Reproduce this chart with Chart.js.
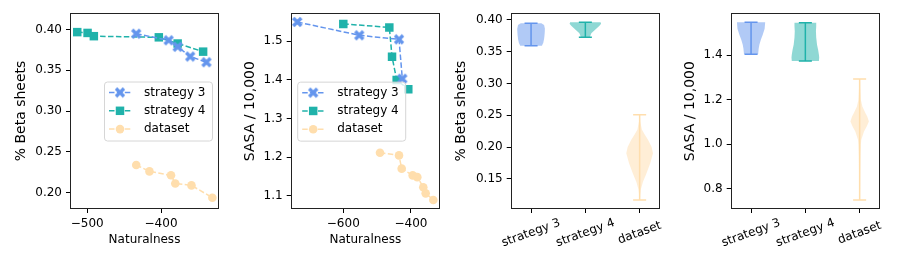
<!DOCTYPE html>
<html>
<head>
<meta charset="utf-8">
<script src="https://cdn.jsdelivr.net/npm/chart.js@4.4.0/dist/chart.umd.min.js"></script>
<style>
  body { margin: 0; background: #fff; width: 897px; height: 269px; position: relative; overflow: hidden; }
  canvas { position: absolute; top: 0; }
</style>
</head>
<body>
<canvas id="c1" width="225" height="269" style="left:0px"></canvas>
<canvas id="c2" width="225" height="269" style="left:225px"></canvas>
<canvas id="c3" width="215" height="269" style="left:450px"></canvas>
<canvas id="c4" width="232" height="269" style="left:665px"></canvas>
<script>
// ---- data ----

// panel 1: naturalness vs % beta sheets
const natTicks1 = [-500, -400];
const betaTicks = [0.20, 0.25, 0.30, 0.35, 0.40];
const s3Nat1 = [-433.6, -389.7, -377.5, -360.5, -338.5];
const s3Beta = [0.395, 0.387, 0.379, 0.367, 0.360];
const s4Nat1 = [-513.5, -499.5, -491, -403, -377.5, -343];
const s4Beta = [0.397, 0.396, 0.392, 0.3906, 0.383, 0.373];
const dsNat1 = [-433.6, -415.7, -386.5, -380.7, -358.8, -330.5];
const dsBeta = [0.2337, 0.2258, 0.221, 0.211, 0.2086, 0.1935];

// panel 2: naturalness vs SASA / 10,000
const natTicks2 = [-600, -400];
const sasaTicks = [1.1, 1.2, 1.3, 1.4, 1.5];
const s3Nat2 = [-735.9, -552.7, -435.4, -425.6];
const s3Sasa = [1.55, 1.5155, 1.505, 1.403];
const s4Nat2 = [-600, -464, -456, -442.3, -408];
const s4Sasa = [1.545, 1.536, 1.46, 1.40, 1.376];
const dsNat2 = [-491.6, -435.4, -427.5, -395, -381.4, -363.7, -356.6, -334.1];
const dsSasa = [1.2114, 1.2044, 1.17, 1.1526, 1.148, 1.122, 1.106, 1.089];

// panels 3 and 4: violins (levels + half widths in category units)
const groups = ['strategy 3', 'strategy 4', 'dataset'];
const betaViolinTicks = [0.15, 0.20, 0.25, 0.30, 0.35, 0.40];
const betaMin = [0.3596, 0.3728, 0.1164];
const betaMax = [0.3948, 0.3964, 0.2507];
const betaLevels = [
  [0.3596, 0.364, 0.37, 0.378, 0.386, 0.392, 0.3948],
  [0.3728, 0.376, 0.379, 0.383, 0.387, 0.391, 0.394, 0.3964],
  [0.1164, 0.125, 0.1327, 0.1448, 0.158, 0.1746, 0.19, 0.2, 0.2114, 0.22, 0.2275, 0.24, 0.2507]
];
const betaHalfW = [
  [0.2, 0.225, 0.24, 0.25, 0.255, 0.24, 0.19],
  [0.085, 0.095, 0.11, 0.16, 0.21, 0.26, 0.29, 0.28],
  [0.004, 0.01, 0.02, 0.06, 0.123, 0.195, 0.246, 0.22, 0.154, 0.09, 0.04, 0.012, 0.004]
];
const sasaViolinTicks = [0.8, 1.0, 1.2, 1.4];
const sasaMin = [1.4045, 1.375, 0.749];
const sasaMax = [1.5486, 1.546, 1.294];
const sasaLevels = [
  [1.4045, 1.43, 1.448, 1.47, 1.493, 1.52, 1.5486],
  [1.375, 1.39, 1.403, 1.425, 1.448, 1.48, 1.508, 1.53, 1.546],
  [0.749, 0.85, 0.95, 1.0, 1.02, 1.057, 1.08, 1.103, 1.125, 1.14, 1.17, 1.2, 1.25, 1.294]
];
const sasaHalfW = [
  [0.13, 0.14, 0.153, 0.18, 0.215, 0.25, 0.26],
  [0.25, 0.255, 0.25, 0.235, 0.215, 0.2, 0.195, 0.2, 0.2],
  [0.008, 0.01, 0.015, 0.022, 0.03, 0.08, 0.13, 0.17, 0.14, 0.108, 0.05, 0.022, 0.012, 0.008]
];

const BLUE = '#6495ED', TEAL = '#20B2AA', SAND = '#FFDEAD';
const FILLS = ['rgba(100,149,237,0.5)', 'rgba(32,178,170,0.5)', 'rgba(255,222,173,0.5)'];
const COLORS = [BLUE, TEAL, SAND];
const FONT = 'DejaVu Sans';

Chart.defaults.font.family = FONT;
Chart.defaults.font.size = 12;
Chart.defaults.color = '#000';

// filled "X" marker like matplotlib's
function xMarker() {
  const c = document.createElement('canvas');
  c.width = 12; c.height = 12;
  const g = c.getContext('2d');
  g.strokeStyle = BLUE;
  g.lineWidth = 3.4;
  g.beginPath();
  g.moveTo(2, 2); g.lineTo(10, 10);
  g.moveTo(10, 2); g.lineTo(2, 10);
  g.stroke();
  return c;
}
const X_IMG = xMarker();

const pts = (xs, ys) => xs.map((x, i) => ({ x: x, y: ys[i] }));
const minus = v => (v < 0 ? '\u2212' : '') + Math.abs(v);

function axis(min, max, ticks, fmt, extra) {
  return Object.assign({
    type: 'linear', min: min, max: max,
    afterBuildTicks: s => { s.ticks = ticks.map(v => ({ value: v })); },
    ticks: { callback: fmt, color: '#000', padding: 4, maxRotation: 0, autoSkip: false },
    grid: { display: true, drawOnChartArea: false, drawTicks: true, tickLength: 4, color: '#000', tickColor: '#000' },
    border: { display: false }
  }, extra);
}

function yTitle(text, pad) {
  return { display: true, text: text, color: '#000', font: { size: 14 }, padding: { top: pad, bottom: 0 } };
}

const frame = {
  id: 'frame',
  afterDraw(chart) {
    const a = chart.chartArea, ctx = chart.ctx;
    ctx.save();
    ctx.strokeStyle = '#222';
    ctx.lineWidth = 1;
    ctx.strokeRect(Math.round(a.left) + 0.5, Math.round(a.top) + 0.5,
      Math.round(a.right - a.left) - 1, Math.round(a.bottom - a.top) - 1);
    ctx.restore();
  }
};

function drawMarker(ctx, ds, x, y) {
  if (ds.pointStyle instanceof HTMLCanvasElement) {
    ctx.drawImage(ds.pointStyle, x - ds.pointStyle.width / 2, y - ds.pointStyle.height / 2);
  } else if (ds.pointStyle === 'rect') {
    const s = ds.pointRadius / Math.SQRT2;
    ctx.fillStyle = ds.backgroundColor;
    ctx.fillRect(x - s, y - s, 2 * s, 2 * s);
  } else {
    ctx.fillStyle = ds.backgroundColor;
    ctx.beginPath();
    ctx.arc(x, y, ds.pointRadius, 0, Math.PI * 2);
    ctx.fill();
  }
}

function boxLegend(side) {
  return {
    id: 'boxLegend',
    afterDraw(chart) {
      const a = chart.chartArea, ctx = chart.ctx;
      const w = 108, h = 59;
      const left = side === 'right' ? a.right - 7 - w : a.left + 6.5;
      const top = (a.top + a.bottom) / 2 - h / 2;
      ctx.save();
      ctx.beginPath();
      ctx.roundRect(left + 0.5, top + 0.5, w, h, 3);
      ctx.fillStyle = 'rgba(255,255,255,0.8)';
      ctx.fill();
      ctx.strokeStyle = '#d6d6d6';
      ctx.lineWidth = 1;
      ctx.stroke();
      chart.data.datasets.forEach((ds, i) => {
        const y = top + 11 + i * 18.3;
        ctx.strokeStyle = ds.borderColor;
        ctx.lineWidth = 1.5;
        ctx.setLineDash([5.5, 2.4]);
        ctx.beginPath();
        ctx.moveTo(left + 5, y);
        ctx.lineTo(left + 27, y);
        ctx.stroke();
        ctx.setLineDash([]);
        drawMarker(ctx, ds, left + 16, y);
        ctx.fillStyle = '#000';
        ctx.font = '12px ' + FONT;
        ctx.textAlign = 'left';
        ctx.textBaseline = 'middle';
        ctx.fillText(ds.label, left + 40, y);
      });
      ctx.restore();
    }
  };
}

function seriesSets(s3, s4, ds) {
  const common = { showLine: true, borderWidth: 1.5, borderDash: [5.5, 2.4], pointBorderWidth: 0 };
  return [
    Object.assign({ label: 'strategy 3', data: s3, borderColor: BLUE, backgroundColor: BLUE, pointStyle: X_IMG, pointRadius: 5 }, common),
    Object.assign({ label: 'strategy 4', data: s4, borderColor: TEAL, backgroundColor: TEAL, pointStyle: 'rect', pointRadius: 6 }, common),
    Object.assign({ label: 'dataset', data: ds, borderColor: SAND, backgroundColor: SAND, pointStyle: 'circle', pointRadius: 4.3 }, common)
  ];
}

function lineChart(id, sets, xr, xt, yr, yt, yfmt, ytitle, yWidth, titlePad, pad, side) {
  return new Chart(document.getElementById(id), {
    type: 'scatter',
    data: { datasets: sets },
    options: {
      responsive: false, animation: false, devicePixelRatio: 1,
      layout: { padding: pad },
      plugins: { legend: { display: false }, tooltip: { enabled: false } },
      scales: {
        x: axis(xr[0], xr[1], xt, minus, {
          afterFit: s => { s.height = 60; },
          title: { display: true, text: 'Naturalness', color: '#000', font: { size: 12 }, padding: { top: 0, bottom: 22 } }
        }),
        y: axis(yr[0], yr[1], yt, yfmt, {
          afterFit: s => { s.width = yWidth; },
          title: yTitle(ytitle, titlePad)
        })
      }
    },
    plugins: [frame, boxLegend(side)]
  });
}

function violinPlugin(mins, maxs, levels, halfW) {
  return {
    id: 'violins',
    beforeDatasetsDraw(chart) {
      const xs = chart.scales.x, ys = chart.scales.y, ctx = chart.ctx;
      ctx.save();
      levels.forEach((lv, i) => {
        const pos = i + 1, hw = halfW[i];
        ctx.beginPath();
        lv.forEach((v, k) => {
          const px = xs.getPixelForValue(pos - hw[k]), py = ys.getPixelForValue(v);
          if (k === 0) ctx.moveTo(px, py); else ctx.lineTo(px, py);
        });
        for (let k = lv.length - 1; k >= 0; k--) {
          ctx.lineTo(xs.getPixelForValue(pos + hw[k]), ys.getPixelForValue(lv[k]));
        }
        ctx.closePath();
        ctx.fillStyle = FILLS[i];
        ctx.fill();

        const cx = xs.getPixelForValue(pos);
        const l = xs.getPixelForValue(pos - 0.12), r = xs.getPixelForValue(pos + 0.12);
        const yMin = ys.getPixelForValue(mins[i]), yMax = ys.getPixelForValue(maxs[i]);
        ctx.strokeStyle = COLORS[i];
        ctx.lineWidth = 1.5;
        ctx.beginPath();
        ctx.moveTo(cx, yMin); ctx.lineTo(cx, yMax);
        ctx.moveTo(l, yMin); ctx.lineTo(r, yMin);
        ctx.moveTo(l, yMax); ctx.lineTo(r, yMax);
        ctx.stroke();
      });
      ctx.restore();
    },
    afterDraw(chart) {
      const xs = chart.scales.x, ctx = chart.ctx, a = chart.chartArea;
      ctx.save();
      ctx.fillStyle = '#000';
      ctx.font = '12px ' + FONT;
      ctx.textAlign = 'center';
      ctx.textBaseline = 'middle';
      groups.forEach((g, i) => {
        ctx.save();
        ctx.translate(xs.getPixelForValue(i + 1), a.bottom + 24);
        ctx.rotate(-20 * Math.PI / 180);
        ctx.fillText(g, 0, 0);
        ctx.restore();
      });
      ctx.restore();
    }
  };
}

function violinChart(id, vp, yr, yt, yfmt, ytitle, yWidth, titlePad, pad) {
  return new Chart(document.getElementById(id), {
    type: 'scatter',
    data: { datasets: [] },
    options: {
      responsive: false, animation: false, devicePixelRatio: 1,
      layout: { padding: pad },
      plugins: { legend: { display: false }, tooltip: { enabled: false } },
      scales: {
        x: axis(0.625, 3.375, [1, 2, 3], v => '', {
          afterFit: s => { s.height = 60; },
          ticks: { display: false }
        }),
        y: axis(yr[0], yr[1], yt, yfmt, {
          afterFit: s => { s.width = yWidth; },
          title: yTitle(ytitle, titlePad)
        })
      }
    },
    plugins: [frame, vp]
  });
}

lineChart('c1', seriesSets(pts(s3Nat1, s3Beta), pts(s4Nat1, s4Beta), pts(dsNat1, dsBeta)),
  [-523.3, -321.5], natTicks1, [0.1796, 0.4205], betaTicks, v => v.toFixed(2),
  '% Beta sheets', 70, 12.6, { left: 0, right: 5, top: 13, bottom: 0 }, 'right');

lineChart('c2', seriesSets(pts(s3Nat2, s3Sasa), pts(s4Nat2, s4Sasa), pts(dsNat2, dsSasa)),
  [-755.4, -314.3], natTicks2, [1.0655, 1.5725], sasaTicks, v => v.toFixed(1),
  'SASA / 10,000', 65.7, 16.6, { left: 0, right: 10, top: 13.3, bottom: 0 }, 'left');

violinChart('c3', violinPlugin(betaMin, betaMax, betaLevels, betaHalfW),
  [0.1024, 0.4105], betaViolinTicks, v => v.toFixed(2),
  '% Beta sheets', 60.7, 3.3, { left: 0, right: 5, top: 13.3, bottom: 0 });

violinChart('c4', violinPlugin(sasaMin, sasaMax, sasaLevels, sasaHalfW),
  [0.709, 1.589], sasaViolinTicks, v => v.toFixed(1),
  'SASA / 10,000', 65.7, 16.6, { left: 0, right: 17, top: 13.3, bottom: 0 });
</script>
</body>
</html>
